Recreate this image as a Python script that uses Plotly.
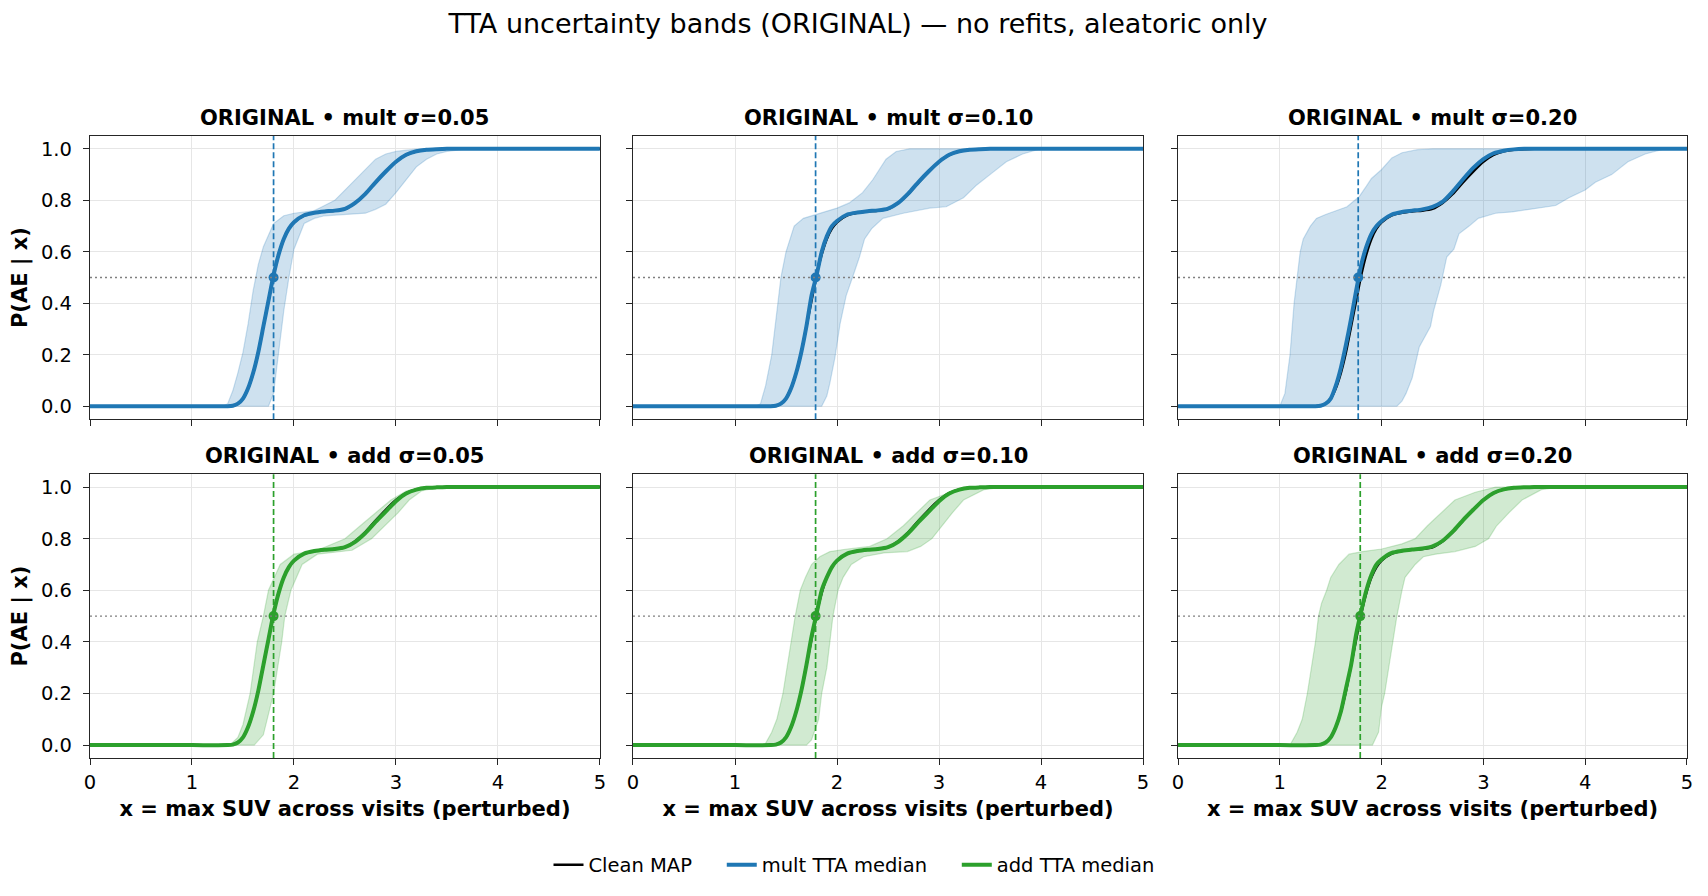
import plotly.graph_objects as go
from plotly.subplots import make_subplots

# --- data ------------------------------------------------------------------
SIGMAS = ["0.05", "0.10", "0.20"]

CURVE_X = [0.0, 1.0, 1.35, 1.4, 1.45, 1.5, 1.55, 1.6, 1.65, 1.7, 1.75, 1.8, 1.85,
           1.9, 1.95, 2.0, 2.1, 2.2, 2.3, 2.4, 2.5, 2.6, 2.7, 2.8, 2.9, 3.0,
           3.1, 3.2, 3.3, 3.4, 3.5, 4.0, 5.0]

# clean MAP curve
CLEAN_Y = [0, 0, 0, 0.002, 0.01, 0.03, 0.07, 0.13, 0.21, 0.31, 0.41, 0.51, 0.59,
           0.65, 0.69, 0.715, 0.742, 0.752, 0.757, 0.76, 0.767, 0.79, 0.825, 0.87, 0.912, 0.95,
           0.977, 0.991, 0.997, 0.999, 1.0, 1.0, 1.0]

# TTA medians
MULT_MED_005 = [0, 0, 0, 0.002, 0.01, 0.03, 0.07, 0.13, 0.21, 0.31, 0.41, 0.51, 0.59,
                0.65, 0.69, 0.715, 0.742, 0.752, 0.757, 0.76, 0.767, 0.79, 0.825, 0.87, 0.912, 0.95,
                0.977, 0.991, 0.997, 0.999, 1.0, 1.0, 1.0]
MULT_MED_010 = [0, 0, 0, 0.002, 0.01, 0.03, 0.07, 0.13, 0.21, 0.31, 0.43, 0.51, 0.6,
                0.66, 0.7, 0.72, 0.745, 0.753, 0.758, 0.761, 0.768, 0.79, 0.827, 0.872, 0.913, 0.95,
                0.977, 0.991, 0.997, 0.999, 1.0, 1.0, 1.0]
MULT_MED_020 = [0, 0, 0, 0.002, 0.01, 0.03, 0.08, 0.15, 0.24, 0.34, 0.45, 0.55, 0.62,
                0.67, 0.7, 0.72, 0.745, 0.755, 0.76, 0.765, 0.775, 0.795, 0.835, 0.882, 0.926, 0.96,
                0.983, 0.993, 0.998, 1.0, 1.0, 1.0, 1.0]
ADD_MED_005 = [0, 0, 0, 0.002, 0.01, 0.03, 0.07, 0.13, 0.21, 0.31, 0.41, 0.51, 0.59,
               0.65, 0.69, 0.715, 0.742, 0.752, 0.757, 0.76, 0.767, 0.788, 0.822, 0.865, 0.905, 0.945,
               0.975, 0.99, 0.997, 0.999, 1.0, 1.0, 1.0]
ADD_MED_010 = [0, 0, 0, 0.002, 0.01, 0.03, 0.07, 0.13, 0.21, 0.31, 0.42, 0.51, 0.6,
               0.65, 0.69, 0.715, 0.742, 0.752, 0.757, 0.76, 0.767, 0.788, 0.822, 0.865, 0.905, 0.945,
               0.975, 0.99, 0.997, 0.999, 1.0, 1.0, 1.0]
ADD_MED_020 = [0, 0, 0, 0.002, 0.01, 0.03, 0.07, 0.13, 0.22, 0.31, 0.43, 0.52, 0.6,
               0.66, 0.7, 0.72, 0.745, 0.753, 0.758, 0.762, 0.77, 0.792, 0.828, 0.872, 0.912, 0.95,
               0.977, 0.991, 0.997, 0.999, 1.0, 1.0, 1.0]

# x where median crosses 0.5
MULT_X50 = [1.80, 1.79, 1.77]
ADD_X50 = [1.80, 1.79, 1.79]

# band edges (upper = left edge, lower = right edge)
MULT_UP_X_005 = [0, 1.3, 1.35, 1.4, 1.45, 1.5, 1.55, 1.6, 1.65, 1.7, 1.8, 1.9, 2.0, 2.1,
                 2.2, 2.3, 2.4, 2.5, 2.6, 2.7, 2.8, 2.9, 3.0, 3.1, 3.2, 3.3, 5.0]
MULT_UP_Y_005 = [0, 0, 0.01, 0.06, 0.13, 0.21, 0.32, 0.45, 0.55, 0.62, 0.71, 0.74, 0.75, 0.755,
                 0.76, 0.78, 0.8, 0.84, 0.88, 0.92, 0.96, 0.98, 0.99, 0.995, 0.999, 1.0, 1.0]
MULT_LO_X_005 = [0, 1.75, 1.8, 1.85, 1.9, 1.95, 2.0, 2.1, 2.2, 2.3, 2.5, 2.7, 2.8, 2.9, 3.0,
                 3.1, 3.2, 3.3, 3.4, 3.5, 3.6, 3.7, 5.0]
MULT_LO_Y_005 = [0, 0, 0.05, 0.22, 0.37, 0.5, 0.61, 0.71, 0.73, 0.74, 0.745, 0.75, 0.765, 0.785,
                 0.83, 0.88, 0.93, 0.96, 0.98, 0.99, 0.995, 1.0, 1.0]

MULT_UP_X_010 = [0, 1.2, 1.25, 1.3, 1.36, 1.42, 1.45, 1.5, 1.58, 1.67, 1.8, 1.93, 2.0, 2.12,
                 2.25, 2.35, 2.48, 2.58, 2.71, 5.0]
MULT_UP_Y_010 = [0, 0, 0.01, 0.08, 0.2, 0.4, 0.5, 0.6, 0.7, 0.73, 0.745, 0.76, 0.77, 0.79,
                 0.83, 0.88, 0.96, 0.99, 1.0, 1.0]
MULT_LO_X_010 = [0, 1.85, 1.9, 1.93, 1.98, 2.03, 2.09, 2.16, 2.22, 2.27, 2.34, 2.45, 2.65,
                 2.91, 3.07, 3.24, 3.37, 3.5, 3.66, 3.82, 3.99, 5.0]
MULT_LO_Y_010 = [0, 0, 0.04, 0.09, 0.19, 0.32, 0.43, 0.51, 0.58, 0.65, 0.69, 0.73, 0.75,
                 0.77, 0.775, 0.81, 0.86, 0.9, 0.95, 0.98, 1.0, 1.0]

MULT_UP_X_020 = [0, 1.0, 1.05, 1.1, 1.14, 1.17, 1.2, 1.23, 1.3, 1.36, 1.45, 1.66, 1.78, 1.85,
                 1.9, 2.0, 2.1, 2.2, 2.35, 2.5, 5.0]
MULT_UP_Y_020 = [0, 0, 0.05, 0.2, 0.4, 0.5, 0.6, 0.65, 0.7, 0.73, 0.745, 0.775, 0.815, 0.855,
                 0.885, 0.92, 0.965, 0.985, 0.997, 1.0, 1.0]
MULT_LO_X_020 = [0, 2.15, 2.2, 2.24, 2.3, 2.37, 2.48, 2.51, 2.58, 2.64, 2.71, 2.76, 2.86, 2.95,
                 3.12, 3.28, 3.54, 3.71, 3.84, 4.0, 4.1, 4.26, 4.42, 4.59, 4.78, 5.0]
MULT_LO_Y_020 = [0, 0, 0.02, 0.05, 0.11, 0.23, 0.31, 0.37, 0.47, 0.58, 0.61, 0.67, 0.7, 0.73,
                 0.75, 0.755, 0.77, 0.78, 0.81, 0.84, 0.87, 0.9, 0.95, 0.98, 1.0, 1.0]

ADD_UP_X_005 = [0, 1.37, 1.45, 1.5, 1.57, 1.64, 1.7, 1.75, 1.865, 2.0, 2.23, 2.5, 2.65, 2.8,
                2.95, 3.1, 3.25, 5.0]
ADD_UP_Y_005 = [0, 0, 0.03, 0.08, 0.2, 0.4, 0.5, 0.6, 0.7, 0.74, 0.755, 0.8, 0.85, 0.9,
                0.95, 0.985, 1.0, 1.0]
ADD_LO_X_005 = [0, 1.61, 1.7, 1.74, 1.8, 1.88, 1.91, 1.97, 2.08, 2.23, 2.57, 2.76, 3.02, 3.13,
                3.25, 3.43, 5.0]
ADD_LO_Y_005 = [0, 0, 0.04, 0.1, 0.2, 0.4, 0.5, 0.6, 0.7, 0.74, 0.755, 0.8, 0.9, 0.95,
                0.985, 1.0, 1.0]

ADD_UP_X_010 = [0, 1.29, 1.36, 1.41, 1.47, 1.51, 1.55, 1.59, 1.64, 1.69, 1.75, 1.83, 1.93,
                2.1, 2.32, 2.49, 2.65, 2.78, 2.91, 3.11, 3.37, 5.0]
ADD_UP_Y_010 = [0, 0, 0.05, 0.1, 0.2, 0.3, 0.4, 0.5, 0.6, 0.65, 0.7, 0.73, 0.75,
                0.76, 0.77, 0.8, 0.85, 0.9, 0.95, 0.98, 1.0, 1.0]
ADD_LO_X_010 = [0, 1.7, 1.75, 1.82, 1.85, 1.9, 1.93, 1.96, 2.01, 2.06, 2.14, 2.26, 2.46,
                2.69, 2.82, 2.93, 3.03, 3.13, 3.24, 3.44, 3.63, 5.0]
ADD_LO_Y_010 = [0, 0, 0.02, 0.1, 0.2, 0.3, 0.4, 0.5, 0.6, 0.65, 0.7, 0.73, 0.745,
                0.75, 0.77, 0.8, 0.85, 0.9, 0.95, 0.99, 1.0, 1.0]

ADD_UP_X_020 = [0, 1.1, 1.17, 1.22, 1.27, 1.31, 1.35, 1.38, 1.41, 1.46, 1.5, 1.58, 1.68,
                1.81, 2.0, 2.2, 2.33, 2.45, 2.59, 2.72, 2.92, 3.12, 5.0]
ADD_UP_Y_020 = [0, 0, 0.05, 0.1, 0.2, 0.3, 0.4, 0.5, 0.55, 0.6, 0.65, 0.7, 0.74,
                0.75, 0.76, 0.78, 0.8, 0.85, 0.9, 0.95, 0.98, 1.0, 1.0]
ADD_LO_X_020 = [0, 1.91, 1.97, 2.0, 2.03, 2.07, 2.11, 2.15, 2.2, 2.23, 2.33, 2.41, 2.53,
                2.72, 2.92, 3.05, 3.13, 3.25, 3.38, 3.57, 3.74, 5.0]
ADD_LO_Y_020 = [0, 0, 0.05, 0.15, 0.2, 0.3, 0.4, 0.5, 0.6, 0.65, 0.7, 0.73, 0.74,
                0.75, 0.77, 0.8, 0.85, 0.9, 0.95, 0.99, 1.0, 1.0]

X_TICKS = [0, 1, 2, 3, 4, 5]
Y_TICKS = [0.0, 0.2, 0.4, 0.6, 0.8, 1.0]

BLUE = "#1f77b4"
GREEN = "#2ca02c"
BLUE_FILL = "rgba(31,119,180,0.22)"
GREEN_FILL = "rgba(44,160,44,0.22)"
FONT = "DejaVu Sans"
PAD = "\u00a0" * 4  # extra room between legend entries

rows = [
    ("mult", BLUE, BLUE_FILL, MULT_X50,
     [MULT_MED_005, MULT_MED_010, MULT_MED_020],
     [(MULT_UP_X_005, MULT_UP_Y_005, MULT_LO_X_005, MULT_LO_Y_005),
      (MULT_UP_X_010, MULT_UP_Y_010, MULT_LO_X_010, MULT_LO_Y_010),
      (MULT_UP_X_020, MULT_UP_Y_020, MULT_LO_X_020, MULT_LO_Y_020)]),
    ("add", GREEN, GREEN_FILL, ADD_X50,
     [ADD_MED_005, ADD_MED_010, ADD_MED_020],
     [(ADD_UP_X_005, ADD_UP_Y_005, ADD_LO_X_005, ADD_LO_Y_005),
      (ADD_UP_X_010, ADD_UP_Y_010, ADD_LO_X_010, ADD_LO_Y_010),
      (ADD_UP_X_020, ADD_UP_Y_020, ADD_LO_X_020, ADD_LO_Y_020)]),
]

fig = make_subplots(rows=2, cols=3)

COL_DOM = [[0.0, 0.3193], [0.3400, 0.6594], [0.6813, 1.0]]
ROW_DOM = [[0.5448, 1.0], [0.0, 0.4563]]

annotations = []
for r, (mode, color, fill, x50s, medians, bands) in enumerate(rows):
    for c in range(3):
        ux, uy, lx, ly = bands[c]
        # band as closed polygon
        fig.add_trace(go.Scatter(
            x=list(ux) + list(lx)[::-1], y=list(uy) + list(ly)[::-1],
            fill="toself", fillcolor=fill, mode="lines",
            line=dict(color=fill, width=1.2), showlegend=False, hoverinfo="skip"),
            row=r + 1, col=c + 1)
        fig.add_trace(go.Scatter(
            x=CURVE_X, y=CLEAN_Y, mode="lines", name="Clean MAP" + PAD,
            line=dict(color="black", width=2.5, shape="spline", smoothing=0.6),
            showlegend=(r == 0 and c == 0), legendrank=1),
            row=r + 1, col=c + 1)
        name = f"{mode} TTA median" + (PAD if r == 0 else "")
        fig.add_trace(go.Scatter(
            x=CURVE_X, y=medians[c], mode="lines", name=name,
            line=dict(color=color, width=4, shape="spline", smoothing=0.6),
            showlegend=(c == 0), legendrank=2 + r),
            row=r + 1, col=c + 1)
        fig.add_hline(y=0.5, line=dict(color="#7f7f7f", width=1.4, dash="2px,3px"),
                      row=r + 1, col=c + 1)
        fig.add_vline(x=x50s[c], line=dict(color=color, width=1.7, dash="6px,3px"),
                      row=r + 1, col=c + 1)
        fig.add_trace(go.Scatter(
            x=[x50s[c]], y=[0.5], mode="markers",
            marker=dict(color=color, size=10), showlegend=False, hoverinfo="skip"),
            row=r + 1, col=c + 1)

        annotations.append(dict(
            text=f"<b>ORIGINAL • {mode} σ={SIGMAS[c]}</b>",
            x=sum(COL_DOM[c]) / 2, y=ROW_DOM[r][1], xref="paper", yref="paper",
            xanchor="center", yanchor="middle", yshift=18, showarrow=False,
            font=dict(size=21, color="black", family=FONT)))

axis_style = dict(
    showline=True, mirror=True, linecolor="#262626", linewidth=1.4,
    ticks="outside", ticklen=6, tickwidth=1.3, tickcolor="#262626",
    showgrid=True, gridcolor="#e6e6e6", gridwidth=1.1, zeroline=False,
    tickfont=dict(size=19.5, color="black", family=FONT),
)

for r in range(2):
    for c in range(3):
        fig.update_xaxes(axis_style, range=[0, 5], tickvals=X_TICKS,
                         domain=COL_DOM[c], showticklabels=(r == 1),
                         row=r + 1, col=c + 1)
        fig.update_yaxes(axis_style, range=[-0.05, 1.05], tickvals=Y_TICKS,
                         tickformat=".1f", domain=ROW_DOM[r], showticklabels=(c == 0),
                         ticklabelstandoff=7, row=r + 1, col=c + 1)
    fig.update_yaxes(title=dict(text="<b>P(AE | x)</b>", standoff=12,
                                font=dict(size=21, color="black", family=FONT)),
                     row=r + 1, col=1)
for c in range(3):
    fig.update_xaxes(title=dict(text="<b>x = max SUV across visits (perturbed)</b>", standoff=8,
                                font=dict(size=21, color="black", family=FONT)),
                     row=2, col=c + 1)

# page body has an 8px margin, so the figure is 8px smaller and shifted
fig.update_layout(
    width=1700, height=888,
    template="none",
    paper_bgcolor="white", plot_bgcolor="white",
    font=dict(family=FONT, color="black"),
    margin=dict(l=82, r=21, t=128, b=131),
    title=dict(text="TTA uncertainty bands (ORIGINAL) — no refits, aleatoric only",
               x=0.5, xref="container", xanchor="center",
               y=1 - 16 / 888, yref="container", yanchor="middle",
               font=dict(size=27, color="black", family=FONT)),
    annotations=annotations,
    legend=dict(orientation="h", x=0.4784, xanchor="center", y=-0.172, yanchor="middle",
                font=dict(size=19.5, color="black", family=FONT), traceorder="normal"),
    showlegend=True,
)

fig.write_html("out.html")
